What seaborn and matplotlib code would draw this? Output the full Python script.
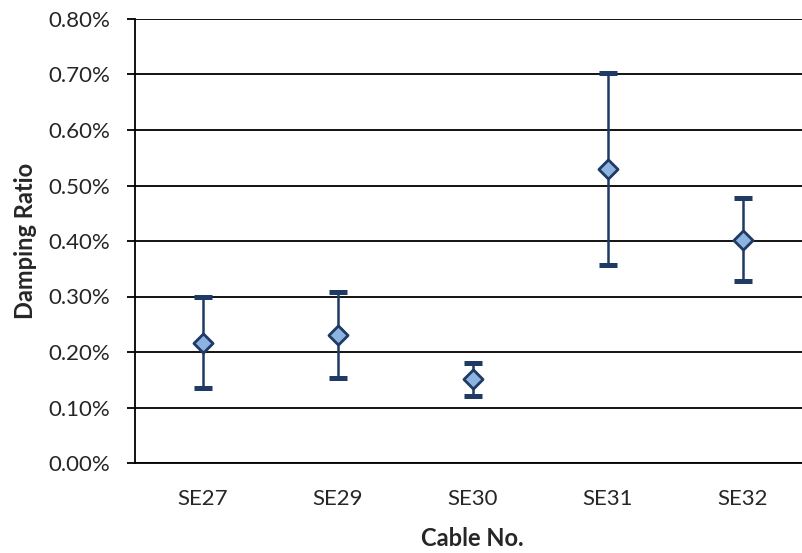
import numpy as np
import pandas as pd
import seaborn as sns
import matplotlib.pyplot as plt
from matplotlib.ticker import PercentFormatter, FixedLocator

# data (damping ratio, %)
cables = ["SE27", "SE29", "SE30", "SE31", "SE32"]
mean_ratio = [0.217, 0.230, 0.151, 0.530, 0.402]
low_ratio = [0.135, 0.153, 0.121, 0.356, 0.328]
high_ratio = [0.300, 0.308, 0.180, 0.703, 0.478]

df = pd.DataFrame({"cable": cables, "mean": mean_ratio, "low": low_ratio, "high": high_ratio})
df["pos"] = np.arange(len(df))

sns.set_style("white")
plt.rcParams["font.family"] = ["Lato", "DejaVu Sans"]

navy = "#1F3B63"
fill = "#8DB3E2"

fig = plt.figure(figsize=(8.02, 5.53), dpi=100)
ax = fig.add_axes([135 / 802, 90 / 553, 675 / 802, 444 / 553])

yerr = [df["mean"] - df["low"], df["high"] - df["mean"]]
ax.errorbar(df["pos"], df["mean"], yerr=yerr, fmt="none", ecolor=navy,
            elinewidth=1.8, capsize=6.5, capthick=3.6, zorder=3)
sns.scatterplot(data=df, x="pos", y="mean", marker="D", s=95, color=fill,
                edgecolor=navy, linewidth=2, zorder=4, ax=ax)

ax.set_xlim(-0.5, len(cables) - 0.5)
ax.set_ylim(0, 0.8)
ax.yaxis.set_major_locator(FixedLocator(np.arange(0, 0.81, 0.1)))
ax.yaxis.set_major_formatter(PercentFormatter(decimals=2))
ax.grid(axis="y", color="black", linewidth=1.3)
ax.set_axisbelow(True)

ax.set_xticks(df["pos"])
ax.set_xticklabels(cables)
ax.set_xticks(np.arange(-0.5, len(cables), 1.0), minor=True)
ax.tick_params(axis="x", which="major", length=0, pad=19, labelsize=16)
ax.tick_params(axis="x", which="minor", length=6, width=1.3, color="black", direction="out")
ax.tick_params(axis="y", length=6, width=1.3, color="black", direction="out", pad=12, labelsize=16, left=True)

for side in ["top", "right"]:
    ax.spines[side].set_visible(False)
for side in ["left", "bottom"]:
    ax.spines[side].set_color("black")
    ax.spines[side].set_linewidth(1.3)

ax.set_xlabel("Cable No.", fontsize=17, fontweight="bold", labelpad=13)
ax.set_ylabel("Damping Ratio", fontsize=17, fontweight="bold", labelpad=8)

fig.savefig("out.png", dpi=100)
